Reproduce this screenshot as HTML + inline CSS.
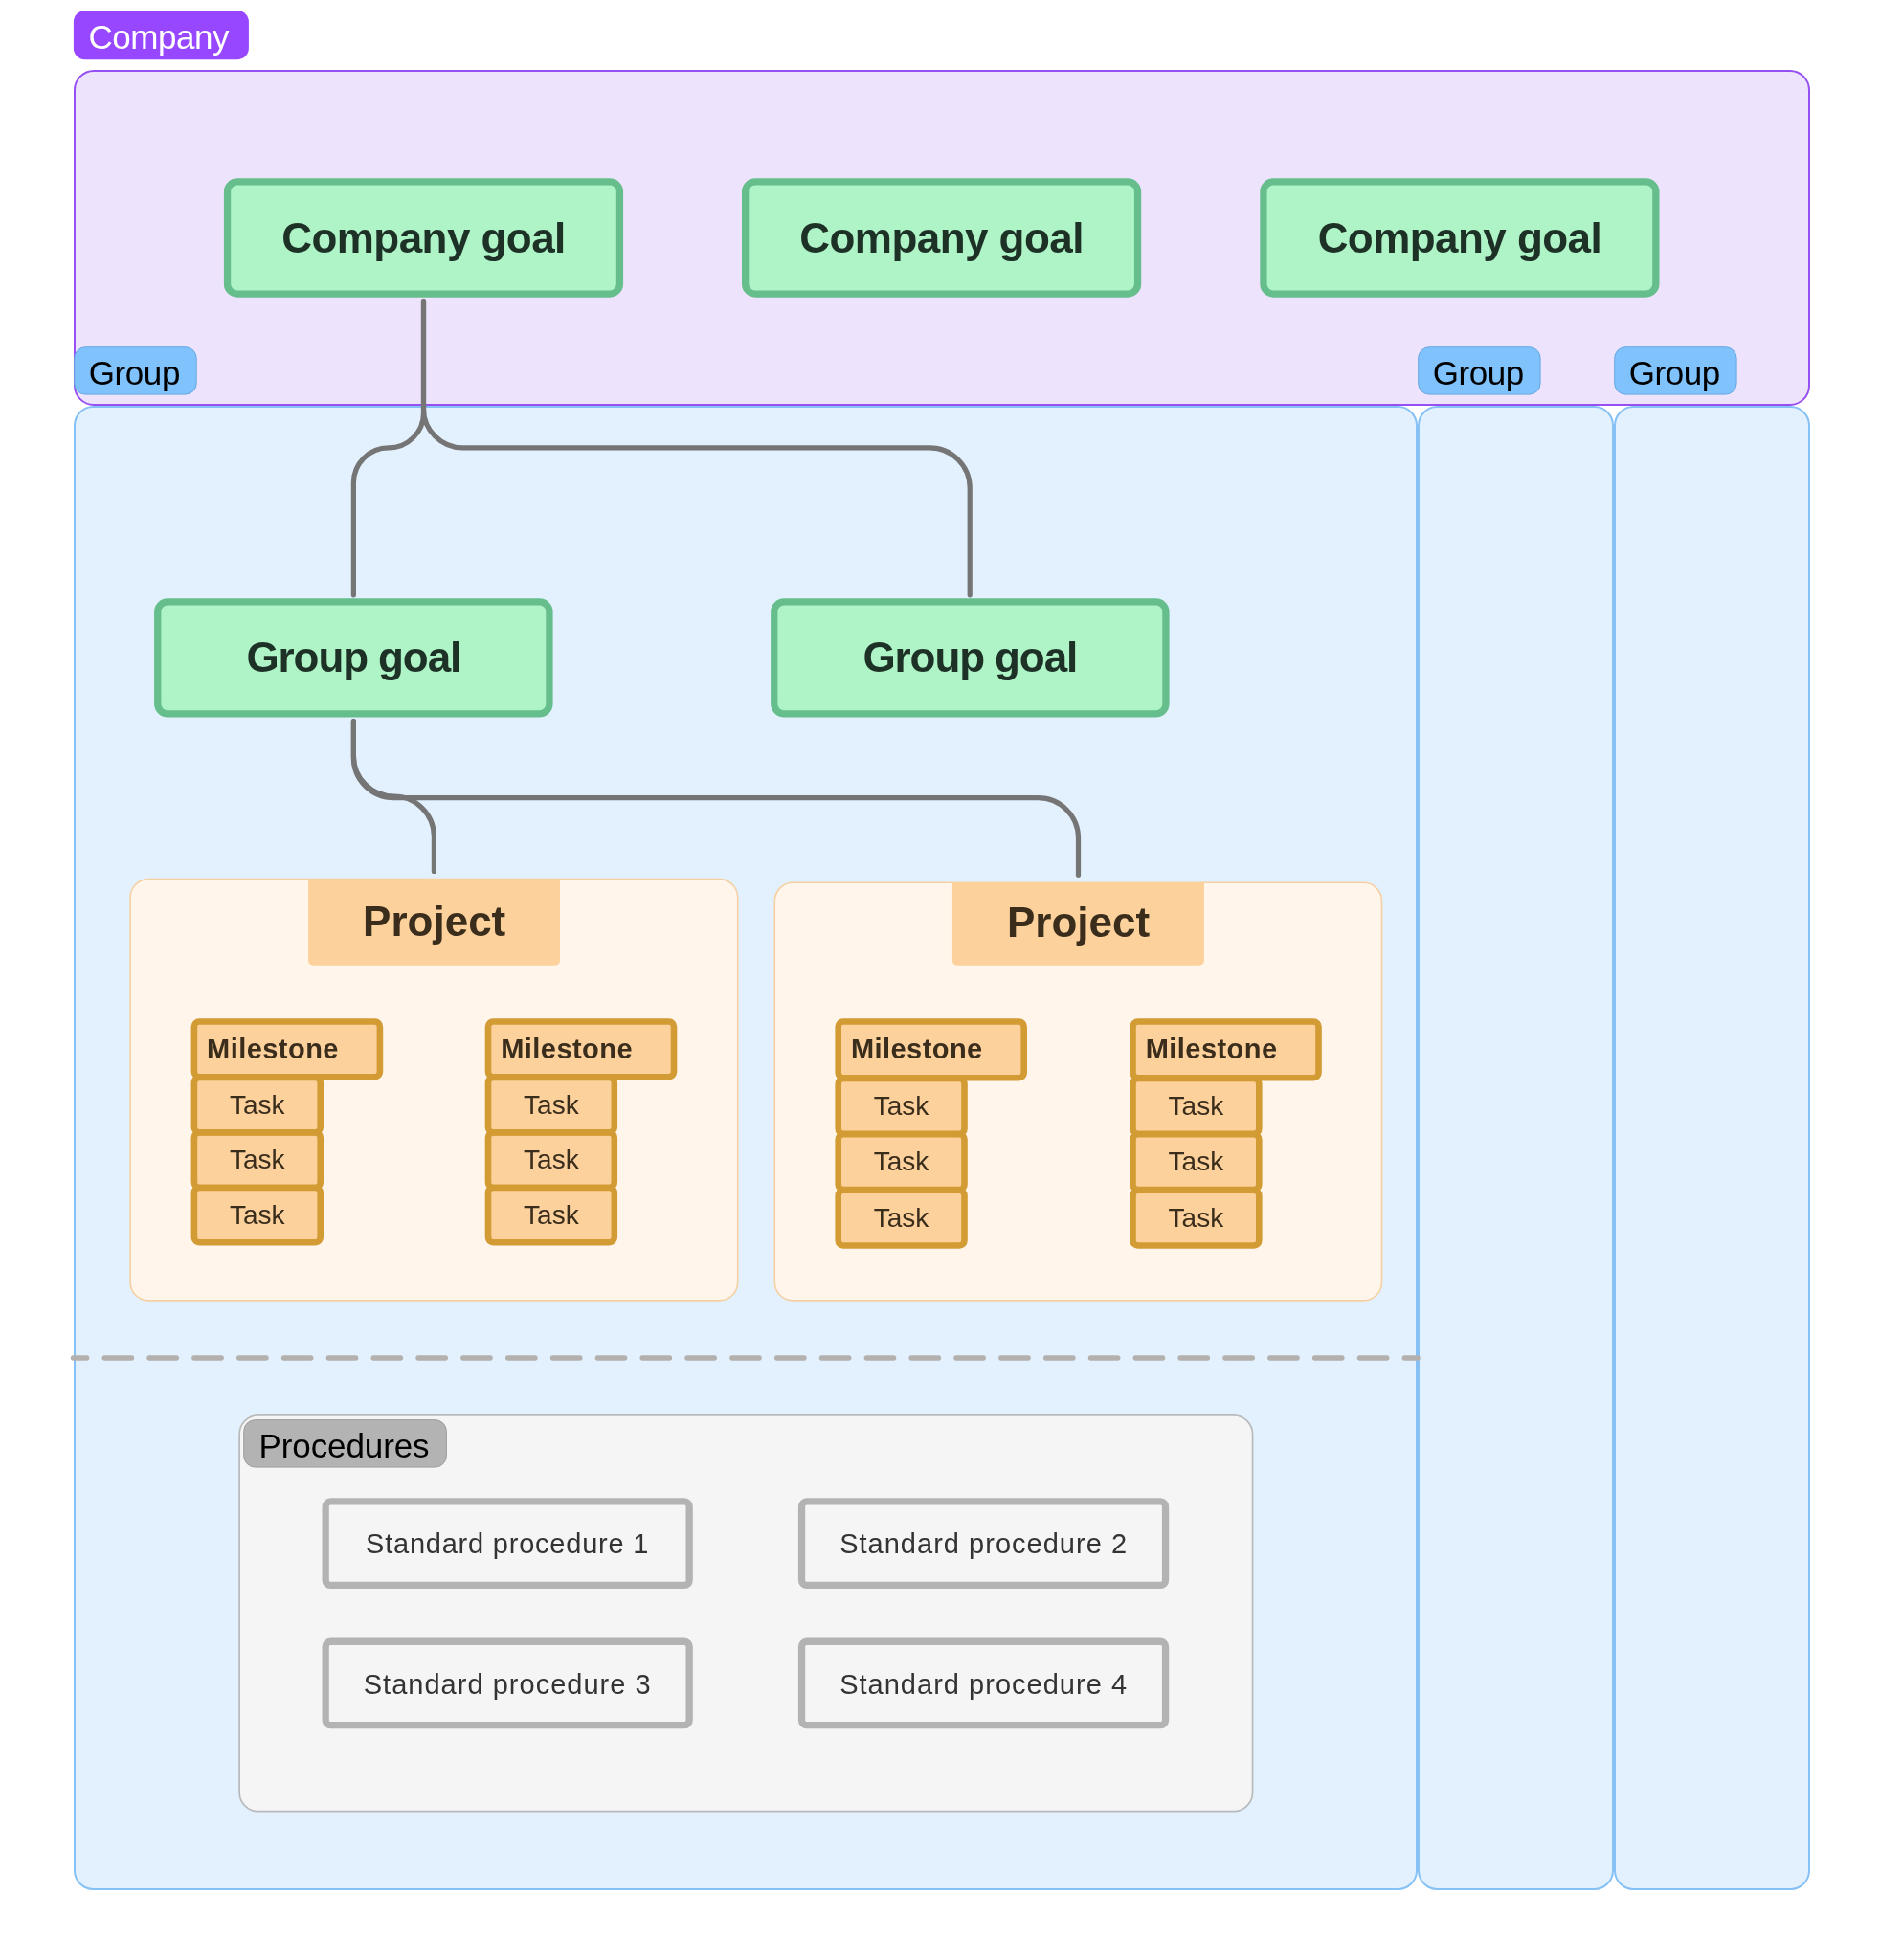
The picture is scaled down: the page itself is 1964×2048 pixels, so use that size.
<!DOCTYPE html>
<html lang="en">
<head>
<meta charset="utf-8">
<title>Company goals diagram</title>
<style>
*{box-sizing:border-box;margin:0;padding:0}
html,body{width:1964px;height:2048px;background:#fff;overflow:hidden}
svg{position:absolute;left:0;top:0;display:block;will-change:transform}
text{font-family:"Liberation Sans",sans-serif;white-space:pre}
</style>
</head>
<body>
<svg width="1964" height="2048" viewBox="0 0 1964 2048">
<g id="shapes">
<rect x="76.90" y="10.90" width="183.00" height="51.30" rx="12.00" fill="#9747ff" stroke="none"/>
<rect x="78.00" y="74.00" width="1812.00" height="349.00" rx="20.00" fill="#eee3fc" stroke="#9650f2" stroke-width="2"/>
<rect x="78.00" y="425.00" width="1402.00" height="1549.00" rx="19.50" fill="#e3f1fe" stroke="#86c1f6" stroke-width="2"/>
<rect x="1482.00" y="425.00" width="203.00" height="1549.00" rx="19.50" fill="#e3f1fe" stroke="#86c1f6" stroke-width="2"/>
<rect x="1687.00" y="425.00" width="203.00" height="1549.00" rx="19.50" fill="#e3f1fe" stroke="#86c1f6" stroke-width="2"/>
<rect x="77.80" y="362.70" width="127.40" height="49.40" rx="11.50" fill="#80c2fc" stroke="#69a8e2" stroke-width="1"/>
<rect x="1481.70" y="362.70" width="127.40" height="49.40" rx="11.50" fill="#80c2fc" stroke="#69a8e2" stroke-width="1"/>
<rect x="1686.70" y="362.70" width="127.40" height="49.40" rx="11.50" fill="#80c2fc" stroke="#69a8e2" stroke-width="1"/>
<rect x="237.55" y="189.95" width="409.90" height="117.10" rx="10.35" fill="#aff4c6" stroke="#66be8c" stroke-width="7.3"/>
<rect x="778.65" y="189.95" width="409.90" height="117.10" rx="10.35" fill="#aff4c6" stroke="#66be8c" stroke-width="7.3"/>
<rect x="1319.95" y="189.95" width="409.90" height="117.10" rx="10.35" fill="#aff4c6" stroke="#66be8c" stroke-width="7.3"/>
<rect x="164.75" y="628.95" width="409.20" height="117.00" rx="10.35" fill="#aff4c6" stroke="#66be8c" stroke-width="7.3"/>
<rect x="808.75" y="628.95" width="409.20" height="117.00" rx="10.35" fill="#aff4c6" stroke="#66be8c" stroke-width="7.3"/>
<rect x="136.10" y="918.60" width="634.60" height="440.30" rx="19.20" fill="#fff5eb" stroke="#f5d0a2" stroke-width="1.6"/>
<rect x="809.30" y="922.20" width="634.20" height="436.70" rx="19.20" fill="#fff5eb" stroke="#f5d0a2" stroke-width="1.6"/>
<path d="M322.1 918.4H585V1003.7A5 5 0 0 1 580 1008.7H327.1A5 5 0 0 1 322.1 1003.7Z" fill="#fcd19c" stroke="none"/>
<path d="M994.9 922H1257.9V1003.7A5 5 0 0 1 1252.9 1008.7H999.9A5 5 0 0 1 994.9 1003.7Z" fill="#fcd19c" stroke="none"/>
<rect x="202.90" y="1240.90" width="131.80" height="57.40" rx="5.20" fill="#fcd19c" stroke="#d39b33" stroke-width="6.6"/>
<rect x="202.90" y="1183.40" width="131.80" height="57.40" rx="5.20" fill="#fcd19c" stroke="#d39b33" stroke-width="6.6"/>
<rect x="202.90" y="1125.90" width="131.80" height="57.40" rx="5.20" fill="#fcd19c" stroke="#d39b33" stroke-width="6.6"/>
<rect x="202.90" y="1067.50" width="194.00" height="57.70" rx="5.20" fill="#fcd19c" stroke="#d39b33" stroke-width="6.6"/>
<rect x="510.00" y="1240.90" width="131.80" height="57.40" rx="5.20" fill="#fcd19c" stroke="#d39b33" stroke-width="6.6"/>
<rect x="510.00" y="1183.40" width="131.80" height="57.40" rx="5.20" fill="#fcd19c" stroke="#d39b33" stroke-width="6.6"/>
<rect x="510.00" y="1125.90" width="131.80" height="57.40" rx="5.20" fill="#fcd19c" stroke="#d39b33" stroke-width="6.6"/>
<rect x="510.00" y="1067.50" width="194.00" height="57.70" rx="5.20" fill="#fcd19c" stroke="#d39b33" stroke-width="6.6"/>
<rect x="875.70" y="1243.70" width="131.80" height="57.80" rx="5.20" fill="#fcd19c" stroke="#d39b33" stroke-width="6.6"/>
<rect x="875.70" y="1185.20" width="131.80" height="57.80" rx="5.20" fill="#fcd19c" stroke="#d39b33" stroke-width="6.6"/>
<rect x="875.70" y="1127.00" width="131.80" height="57.80" rx="5.20" fill="#fcd19c" stroke="#d39b33" stroke-width="6.6"/>
<rect x="875.70" y="1067.50" width="194.00" height="58.80" rx="5.20" fill="#fcd19c" stroke="#d39b33" stroke-width="6.6"/>
<rect x="1183.50" y="1243.70" width="131.80" height="57.80" rx="5.20" fill="#fcd19c" stroke="#d39b33" stroke-width="6.6"/>
<rect x="1183.50" y="1185.20" width="131.80" height="57.80" rx="5.20" fill="#fcd19c" stroke="#d39b33" stroke-width="6.6"/>
<rect x="1183.50" y="1127.00" width="131.80" height="57.80" rx="5.20" fill="#fcd19c" stroke="#d39b33" stroke-width="6.6"/>
<rect x="1183.50" y="1067.50" width="194.00" height="58.80" rx="5.20" fill="#fcd19c" stroke="#d39b33" stroke-width="6.6"/>
<rect x="250.15" y="1478.85" width="1058.40" height="413.70" rx="19.65" fill="#f5f5f5" stroke="#b7b9bb" stroke-width="1.7"/>
<rect x="254.70" y="1483.60" width="211.70" height="49.50" rx="12.00" fill="#b3b3b3" stroke="#9e9e9e" stroke-width="1"/>
<rect x="340.15" y="1568.95" width="380.00" height="87.40" rx="5.15" fill="#f5f5f5" stroke="#b3b3b3" stroke-width="7.3"/>
<rect x="340.15" y="1715.25" width="380.00" height="87.40" rx="5.15" fill="#f5f5f5" stroke="#b3b3b3" stroke-width="7.3"/>
<rect x="837.55" y="1568.95" width="380.00" height="87.40" rx="5.15" fill="#f5f5f5" stroke="#b3b3b3" stroke-width="7.3"/>
<rect x="837.55" y="1715.25" width="380.00" height="87.40" rx="5.15" fill="#f5f5f5" stroke="#b3b3b3" stroke-width="7.3"/>
</g>
<g fill="none" stroke="#757575" stroke-width="5.2" stroke-linecap="round" stroke-linejoin="round">
<path d="M442.5 314.7V431.4A36.55 36.55 0 0 1 405.95 467.95A36.55 36.55 0 0 0 369.4 504.5V621.8"/>
<path d="M442.5 314.7V426.95A41 41 0 0 0 483.5 467.95H971.2A42 42 0 0 1 1013.2 509.95V621.8"/>
<path d="M369.4 753.7V790A42 42 0 0 0 411.4 832A42 42 0 0 1 453.4 874V910.4"/>
<path d="M369.4 753.7V791.7A42 42 0 0 0 411.4 833.7H1084.5A42 42 0 0 1 1126.5 875.7V914.3"/>
<line x1="76.5" y1="1419" x2="1481" y2="1419" stroke="#b3b0ad" stroke-width="5.5" stroke-dasharray="28.2 18.63" stroke-dashoffset="14.08"/>
</g>
<g id="labels">
<text x="92.40" y="50.60" font-size="35" fill="#fff" letter-spacing="-0.43">Company</text>
<text x="92.80" y="401.60" font-size="35" fill="#000" letter-spacing="-0.43">Group</text>
<text x="1496.70" y="401.60" font-size="35" fill="#000" letter-spacing="-0.43">Group</text>
<text x="1701.70" y="401.60" font-size="35" fill="#000" letter-spacing="-0.43">Group</text>
<text x="442.50" y="263.60" font-size="44" fill="#1e3127" font-weight="bold" text-anchor="middle" letter-spacing="-0.55">Company goal</text>
<text x="983.60" y="263.60" font-size="44" fill="#1e3127" font-weight="bold" text-anchor="middle" letter-spacing="-0.55">Company goal</text>
<text x="1524.90" y="263.60" font-size="44" fill="#1e3127" font-weight="bold" text-anchor="middle" letter-spacing="-0.55">Company goal</text>
<text x="369.30" y="702.40" font-size="44" fill="#1e3127" font-weight="bold" text-anchor="middle" letter-spacing="-1.1">Group goal</text>
<text x="1013.30" y="702.40" font-size="44" fill="#1e3127" font-weight="bold" text-anchor="middle" letter-spacing="-1.1">Group goal</text>
<text x="453.70" y="977.70" font-size="44" fill="#3a2d1c" font-weight="bold" text-anchor="middle">Project</text>
<text x="1126.60" y="979.20" font-size="44" fill="#3a2d1c" font-weight="bold" text-anchor="middle">Project</text>
<text x="216.10" y="1105.90" font-size="29" fill="#3a2d1c" font-weight="bold" letter-spacing="0.45">Milestone</text>
<text x="268.80" y="1163.80" font-size="28" fill="#3a2d1c" text-anchor="middle">Task</text>
<text x="268.80" y="1221.30" font-size="28" fill="#3a2d1c" text-anchor="middle">Task</text>
<text x="268.80" y="1278.80" font-size="28" fill="#3a2d1c" text-anchor="middle">Task</text>
<text x="523.20" y="1105.90" font-size="29" fill="#3a2d1c" font-weight="bold" letter-spacing="0.45">Milestone</text>
<text x="575.90" y="1163.80" font-size="28" fill="#3a2d1c" text-anchor="middle">Task</text>
<text x="575.90" y="1221.30" font-size="28" fill="#3a2d1c" text-anchor="middle">Task</text>
<text x="575.90" y="1278.80" font-size="28" fill="#3a2d1c" text-anchor="middle">Task</text>
<text x="888.90" y="1106.20" font-size="29" fill="#3a2d1c" font-weight="bold" letter-spacing="0.45">Milestone</text>
<text x="941.60" y="1165.00" font-size="28" fill="#3a2d1c" text-anchor="middle">Task</text>
<text x="941.60" y="1223.20" font-size="28" fill="#3a2d1c" text-anchor="middle">Task</text>
<text x="941.60" y="1281.70" font-size="28" fill="#3a2d1c" text-anchor="middle">Task</text>
<text x="1196.70" y="1106.20" font-size="29" fill="#3a2d1c" font-weight="bold" letter-spacing="0.45">Milestone</text>
<text x="1249.40" y="1165.00" font-size="28" fill="#3a2d1c" text-anchor="middle">Task</text>
<text x="1249.40" y="1223.20" font-size="28" fill="#3a2d1c" text-anchor="middle">Task</text>
<text x="1249.40" y="1281.70" font-size="28" fill="#3a2d1c" text-anchor="middle">Task</text>
<text x="270.50" y="1523.30" font-size="35" fill="#000" letter-spacing="-0.1">Procedures</text>
<text x="530.10" y="1623.30" font-size="29" fill="#333" text-anchor="middle" letter-spacing="0.78">Standard procedure 1</text>
<text x="530.20" y="1769.60" font-size="29" fill="#333" text-anchor="middle" letter-spacing="1.02">Standard procedure 3</text>
<text x="1027.60" y="1623.30" font-size="29" fill="#333" text-anchor="middle" letter-spacing="1.02">Standard procedure 2</text>
<text x="1027.60" y="1769.60" font-size="29" fill="#333" text-anchor="middle" letter-spacing="1.02">Standard procedure 4</text>
</g>
</svg>
</body>
</html>
